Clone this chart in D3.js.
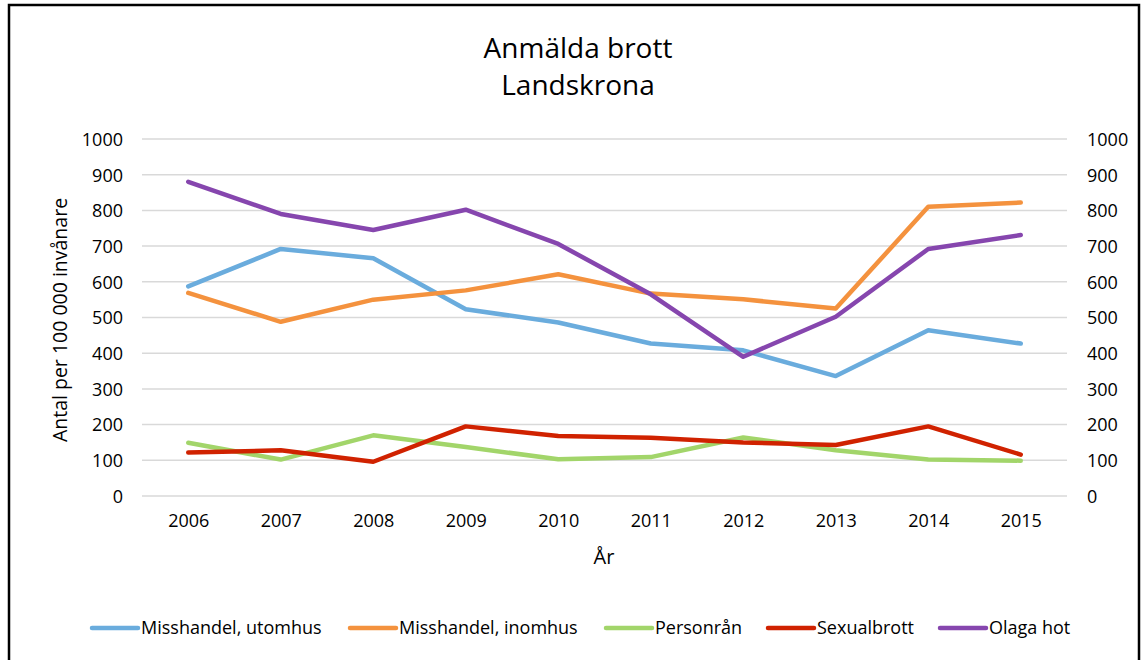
<!DOCTYPE html>
<html>
<head>
<meta charset="utf-8">
<script src="https://cdn.jsdelivr.net/npm/d3@7"></script>
<style>
  html, body { margin: 0; padding: 0; background: #fff; }
  svg { display: block; }
  text { font-family: "Open Sans", sans-serif; fill: #000; }
</style>
</head>
<body>
<svg id="chart" width="1141" height="660"></svg>
<script>
const years = ["2006","2007","2008","2009","2010","2011","2012","2013","2014","2015"];
const yTicks = [0,100,200,300,400,500,600,700,800,900,1000];
const seriesNames = ["Misshandel, utomhus","Misshandel, inomhus","Personrån","Sexualbrott","Olaga hot"];
const seriesColors = ["#6aacdd","#f4923e","#a2d56a","#d02200","#8646ae"];
const misshandelUtomhus = [587, 692, 666, 523, 486, 427, 408, 336, 464, 427];
const misshandelInomhus = [569, 488, 550, 576, 621, 567, 551, 525, 810, 822];
const personran = [149, 102, 170, 137, 103, 109, 164, 128, 102, 99];
const sexualbrott = [122, 128, 96, 195, 168, 163, 150, 143, 195, 116];
const olagaHot = [880, 790, 745, 802, 706, 565, 390, 502, 692, 731];
const seriesValues = [misshandelUtomhus, misshandelInomhus, personran, sexualbrott, olagaHot];

const svg = d3.select("#chart");
const W = 1141, H = 660;

// frame
svg.append("path")
  .attr("d", `M9,${H+5} L9,5 L1139,5 L1139,${H+5}`)
  .attr("fill", "none").attr("stroke", "#000").attr("stroke-width", 2.5);

const x = d3.scalePoint().domain(years).range([142, 1067]).padding(0.5);
const y = d3.scaleLinear().domain([0, 1000]).range([496, 139]);

// gridlines
svg.append("g").selectAll("line").data(yTicks).join("line")
  .attr("x1", 142).attr("x2", 1067)
  .attr("y1", d => y(d)).attr("y2", d => y(d))
  .attr("stroke", "#d9d9d9").attr("stroke-width", 1.5);

const fmt = d3.format("d");

// left axis
const leftAxis = svg.append("g").attr("transform", "translate(123,0)")
  .call(d3.axisLeft(y).tickValues(yTicks).tickFormat(fmt).tickSize(0).tickPadding(0));
leftAxis.select(".domain").remove();
leftAxis.selectAll("text").attr("font-size", 18).attr("font-family", "Open Sans").attr("fill", "#000").attr("dy", "0.35em");

// right axis
const rightAxis = svg.append("g").attr("transform", "translate(1087,0)")
  .call(d3.axisRight(y).tickValues(yTicks).tickFormat(fmt).tickSize(0).tickPadding(0));
rightAxis.select(".domain").remove();
rightAxis.selectAll("text").attr("font-size", 18).attr("font-family", "Open Sans").attr("fill", "#000").attr("dy", "0.35em");

// bottom axis
const bottomAxis = svg.append("g").attr("transform", "translate(0,514)")
  .call(d3.axisBottom(x).tickSize(0).tickPadding(0));
bottomAxis.select(".domain").remove();
bottomAxis.selectAll("text").attr("font-size", 18).attr("font-family", "Open Sans").attr("fill", "#000");

// axis titles
svg.append("text").attr("x", 604).attr("y", 564).attr("text-anchor", "middle")
  .attr("font-size", 20).text("År");
svg.append("text").attr("transform", "translate(67,320) rotate(-90)")
  .attr("text-anchor", "middle").attr("font-size", 19.5).text("Antal per 100 000 invånare");

// title
svg.append("text").attr("x", 578).attr("y", 58).attr("text-anchor", "middle")
  .attr("font-size", 28).text("Anmälda brott");
svg.append("text").attr("x", 578).attr("y", 95).attr("text-anchor", "middle")
  .attr("font-size", 28).text("Landskrona");

// lines
const line = d3.line().x((d, i) => x(years[i])).y(d => y(d));
svg.append("g").selectAll("path").data(seriesValues).join("path")
  .attr("d", d => line(d))
  .attr("fill", "none")
  .attr("stroke", (d, i) => seriesColors[i])
  .attr("stroke-width", 4.5)
  .attr("stroke-linejoin", "round")
  .attr("stroke-linecap", "round");

// legend
const legendX = [92, 350, 606, 768, 940];
const lg = svg.append("g").selectAll("g").data(seriesNames).join("g")
  .attr("transform", (d, i) => `translate(${legendX[i]},628)`);
lg.append("line").attr("x1", 0).attr("x2", 46).attr("y1", 0).attr("y2", 0)
  .attr("stroke", (d, i) => seriesColors[i]).attr("stroke-width", 4.5).attr("stroke-linecap", "round");
lg.append("text").attr("x", 49).attr("y", 0).attr("dy", "0.35em")
  .attr("font-size", 18).text(d => d);
</script>
</body>
</html>
